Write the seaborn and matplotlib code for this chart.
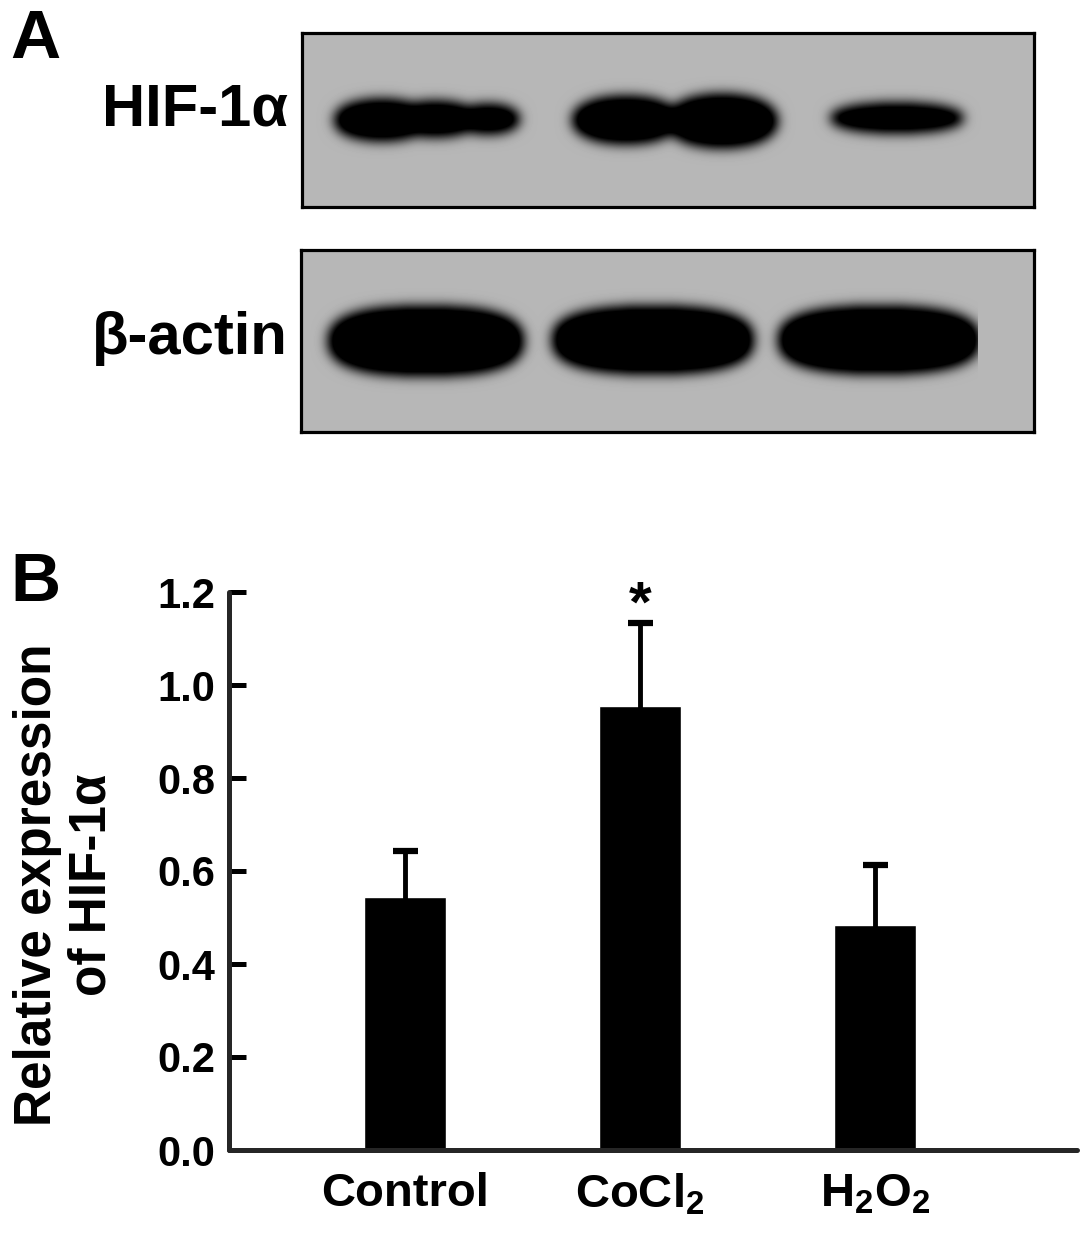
import numpy as np
import pandas as pd
import matplotlib
matplotlib.use("Agg")
import matplotlib.pyplot as plt
import seaborn as sns

# Panel B data
groups = ["Control", "CoCl$_2$", "H$_2$O$_2$"]
means = [0.544, 0.955, 0.484]
sds = [0.098, 0.178, 0.128]

# Panel A band layout (pixel coords of the original figure), one list of lobes per lane
hif_x = [[382, 435, 488], [626, 722], [897]]
hif_hw = [[48, 44, 32], [54, 56], [67]]
hif_hh = [[21, 18, 15], [24, 27], [15]]
hif_y = [[120, 119, 119], [120, 121], [118]]
actin_x = [[426], [653], [879]]
actin_hw = [[98], [101], [101]]
actin_hh = [[35], [34], [34]]
actin_y = [[341], [340], [340]]
actin_cut = 978

sns.set_style("ticks")
plt.rcParams["font.family"] = ["Liberation Sans", "DejaVu Sans"]
plt.rcParams["text.color"] = "black"
plt.rcParams["xtick.color"] = "black"
plt.rcParams["ytick.color"] = "black"
plt.rcParams["mathtext.fontset"] = "custom"
plt.rcParams["mathtext.rm"] = "Liberation Sans:bold"
plt.rcParams["mathtext.it"] = "Liberation Sans:bold:italic"
plt.rcParams["mathtext.bf"] = "Liberation Sans:bold"

W, H = 1087, 1237
fig = plt.figure(figsize=(W / 100, H / 100), dpi=100)


def blur(a, sigma):
    k = np.arange(-3 * sigma, 3 * sigma + 1)
    k = np.exp(-0.5 * (k / sigma) ** 2)
    k /= k.sum()
    a = np.apply_along_axis(lambda r: np.convolve(r, k, mode="same"), 1, a)
    a = np.apply_along_axis(lambda c: np.convolve(c, k, mode="same"), 0, a)
    return a


def blot_axes(left, right, top, bottom, xs, hws, hhs, ys, p, cut=None):
    ax = fig.add_axes([left / W, 1 - bottom / H, (right - left) / W, (bottom - top) / H])
    gx, gy = np.meshgrid(np.arange(left, right) + 0.5, np.arange(top, bottom) + 0.5)
    mask = np.zeros_like(gx)
    for bx, bw, bh, by in zip(xs, hws, hhs, ys):
        for cx, hw, hh, cy in zip(bx, bw, bh, by):
            r = np.abs((gx - cx) / hw) ** p + np.abs((gy - cy) / hh) ** p
            mask[r <= 1] = 1
    dark = np.clip(blur(mask, 6) * 1.3, 0, 1)
    if cut is not None:
        dark[gx > cut] = 0
    img = 0.715 * (1 - dark)
    ax.imshow(img, cmap="gray", vmin=0, vmax=1, extent=(left, right, bottom, top),
              aspect="auto", interpolation="bilinear")
    ax.set_xlim(left, right)
    ax.set_ylim(bottom, top)
    ax.set_xticks([])
    ax.set_yticks([])
    for s in ax.spines.values():
        s.set_linewidth(2.3)
        s.set_color("black")
    return ax


blot_axes(302, 1034, 33, 207, hif_x, hif_hw, hif_hh, hif_y, 2.2)
blot_axes(301, 1034, 250, 432, actin_x, actin_hw, actin_hh, actin_y, 2.6, cut=actin_cut)

fig.text(288 / W, 1 - 110 / H, "HIF-1α", ha="right", va="center", fontsize=43, fontweight="bold")
fig.text(288 / W, 1 - 338 / H, "β-actin", ha="right", va="center", fontsize=43, fontweight="bold")
fig.text(10 / W, 1 - 40 / H, "A", ha="left", va="center", fontsize=50, fontweight="bold")
fig.text(10 / W, 1 - 583 / H, "B", ha="left", va="center", fontsize=50, fontweight="bold")

# Panel B bar chart
df = pd.DataFrame({"group": groups, "mean": means, "sd": sds})
ax = fig.add_axes([229 / W, 1 - 1150 / H, 848 / W, 558 / H])
sns.barplot(data=df, x="group", y="mean", color="black", width=0.35,
            errorbar=None, saturation=1, ax=ax)
ax.errorbar(range(len(df)), df["mean"], yerr=df["sd"], fmt="none", ecolor="black",
            elinewidth=3.5, capsize=9, capthick=4.5, zorder=1)
ax.text(1, df["mean"][1] + df["sd"][1] + 0.036, "*", ha="center", va="center",
        fontsize=42, fontweight="bold")

ax.set_xlim(-0.75, 2.86)
ax.set_ylim(0, 1.2)
ax.set_yticks(np.arange(0, 1.21, 0.2))
ax.set_yticklabels([f"{v:.1f}" for v in np.arange(0, 1.21, 0.2)])
ax.set_xlabel("")
ax.set_ylabel("")
sns.despine(ax=ax)
for s in ["left", "bottom"]:
    ax.spines[s].set_linewidth(3.6)
    ax.spines[s].set_capstyle("round")
ax.tick_params(axis="y", direction="in", length=12, width=3.6, pad=10, labelsize=30)
ax.tick_params(axis="x", length=0, pad=16, labelsize=34)
for lab in ax.get_xticklabels() + ax.get_yticklabels():
    lab.set_fontweight("bold")

fig.text(65 / W, 1 - 885 / H, "Relative expression\nof HIF-1α", rotation=90,
         ha="center", va="center", fontsize=37, fontweight="bold",
         multialignment="center", linespacing=1.15)

fig.savefig("out.png", dpi=100)
